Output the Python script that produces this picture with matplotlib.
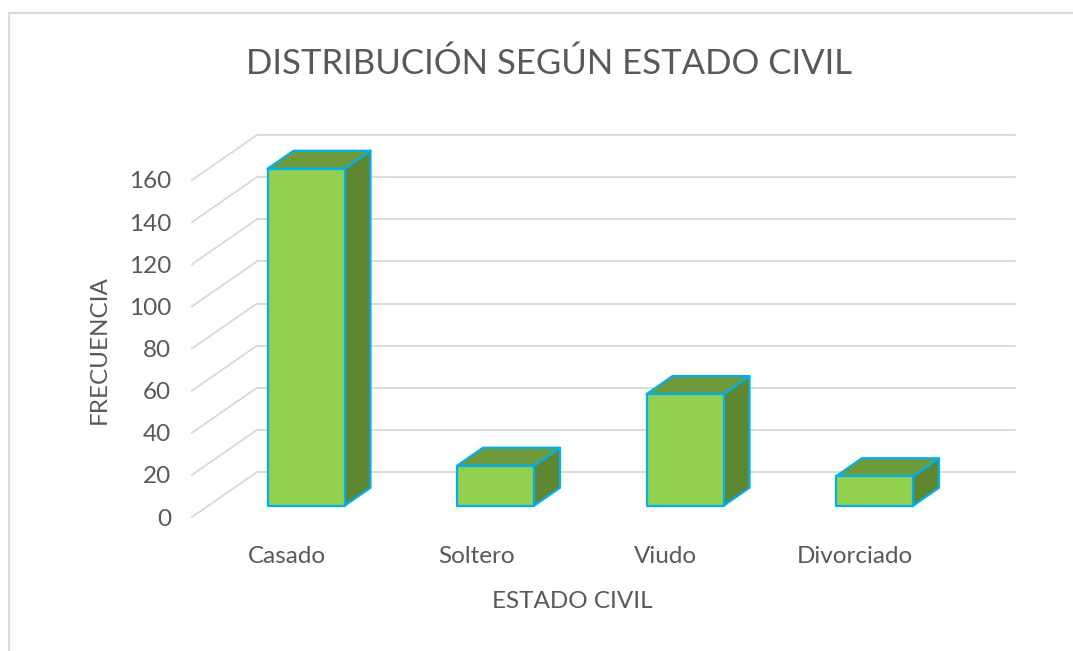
import matplotlib.pyplot as plt
from matplotlib.patches import Polygon, Rectangle

# data
categories = ["Casado", "Soltero", "Viudo", "Divorciado"]
frequencies = [160, 19, 53, 14]
y_ticks = [0, 20, 40, 60, 80, 100, 120, 140, 160]

title = "DISTRIBUCIÓN SEGÚN ESTADO CIVIL"
x_label = "ESTADO CIVIL"
y_label = "FRECUENCIA"

# colours, Excel-ish 3D column look
front_color = "#92D050"
top_color = "#6F9A3B"
side_color = "#5E8732"
edge_color = "#00B0F0"
grid_color = "#D9D9D9"
text_color = "#595959"

plt.rcParams['font.family'] = ['Lato', 'DejaVu Sans']

fig = plt.figure(figsize=(10.73, 6.51), dpi=100)
fig.patch.set_facecolor("white")

# chart frame (cropped at right/bottom like the screenshot)
fig.patches.append(Rectangle((9 / 1073, -0.1), 1.2, 1.1 - 13 / 651,
                             transform=fig.transFigure, fill=False,
                             edgecolor=grid_color, linewidth=1.5))

ax = fig.add_axes([192 / 1073, (651 - 517) / 651, 758 / 1073, 337 / 651])
ax.set_xlim(-0.5, len(categories) - 0.5)
ax.set_ylim(0, 160)

# oblique depth: full depth shift in data units
DX = 65 / 189.5
DY = 45 / (337 / 160)
d0, d1 = 0.25, 0.65   # bar sits between these depth fractions
half_w = 38.5 / 189.5
nudge = 3 / 189.5     # small perspective shift of the columns

# walls: slanted side-wall lines + back-wall gridlines
x_left, x_right = -0.5, len(categories) - 0.5
for v in y_ticks:
    ax.plot([x_left, x_left + DX], [v, v + DY], color=grid_color, lw=1.3,
            clip_on=False, zorder=1)
    ax.plot([x_left + DX, x_right + DX], [v + DY, v + DY], color=grid_color,
            lw=1.3, clip_on=False, zorder=1)

# 3D columns
bdx, bdy = (d1 - d0) * DX, (d1 - d0) * DY
for i, h in enumerate(frequencies):
    x0 = i - half_w + d0 * DX + nudge
    x1 = i + half_w + d0 * DX + nudge
    y0 = d0 * DY
    y1 = h + d0 * DY
    side = [(x1, y0), (x1 + bdx, y0 + bdy), (x1 + bdx, y1 + bdy), (x1, y1)]
    top = [(x0, y1), (x1, y1), (x1 + bdx, y1 + bdy), (x0 + bdx, y1 + bdy)]
    front = [(x0, y0), (x1, y0), (x1, y1), (x0, y1)]
    for pts, col in [(side, side_color), (top, top_color), (front, front_color)]:
        ax.add_patch(Polygon(pts, closed=True, facecolor=col,
                             edgecolor=edge_color, linewidth=1.6,
                             joinstyle="round", clip_on=False, zorder=3))

ax.set_yticks(y_ticks)
ax.set_xticks(range(len(categories)))
ax.set_xticklabels(categories)
ax.tick_params(axis="both", length=0, labelsize=17.5, labelcolor=text_color)
ax.tick_params(axis="y", pad=15)
ax.tick_params(axis="x", pad=21)
for s in ax.spines.values():
    s.set_visible(False)

fig.text(549 / 1073, 1 - 64 / 651, title, ha="center", va="center",
         fontsize=25, color=text_color)
fig.text(572 / 1073, 1 - 601 / 651, x_label, ha="center", va="center",
         fontsize=17.5, color=text_color)
fig.text(99 / 1073, 1 - 350 / 651, y_label, ha="center", va="center",
         rotation=90, fontsize=17.5, color=text_color)

plt.savefig("out.png", dpi=100, facecolor=fig.get_facecolor())
